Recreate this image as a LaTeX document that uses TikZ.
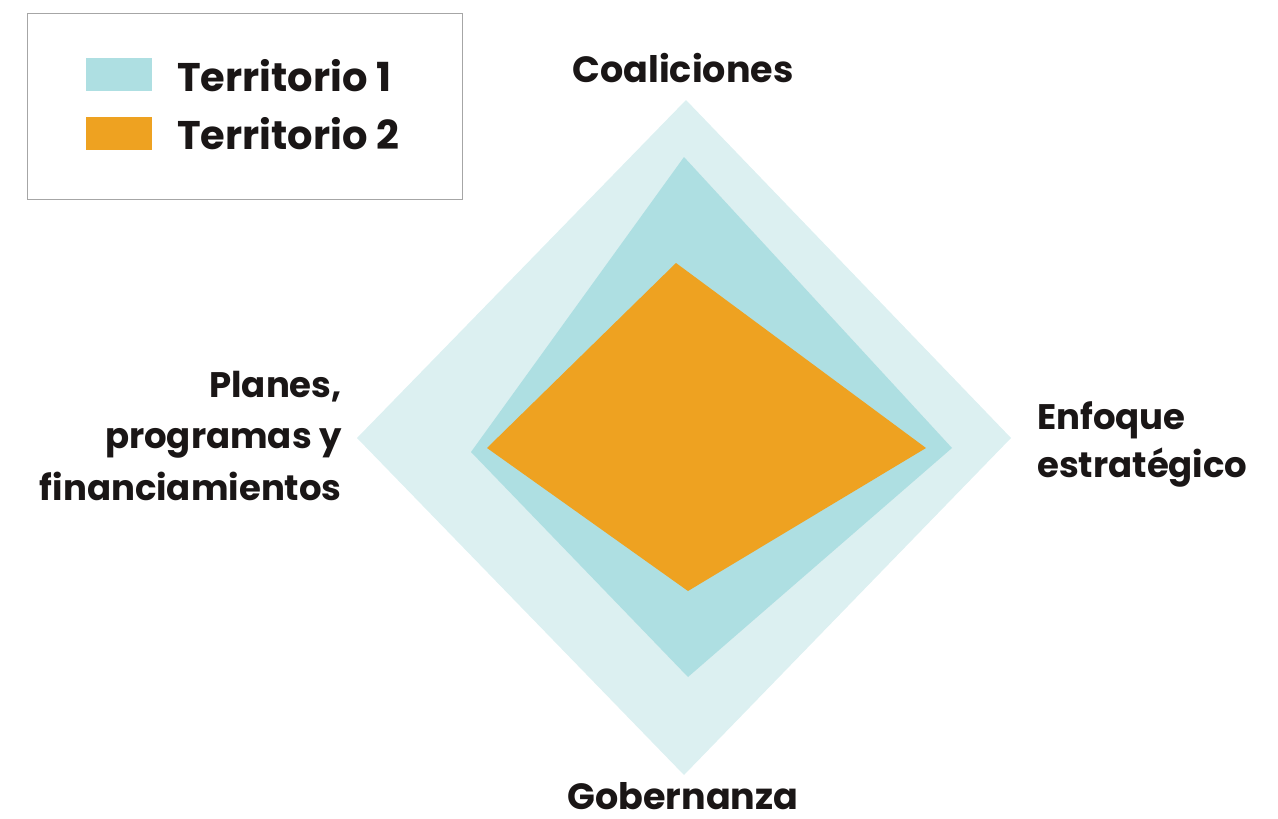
\documentclass[tikz,border=0pt]{standalone}
\usepackage{fontspec}
\setmainfont{Poppins}[BoldFont={* Bold}]
\definecolor{lightcyan}{HTML}{DCF0F1}
\definecolor{midcyan}{HTML}{AEDFE2}
\definecolor{orangefill}{HTML}{EEA221}
\definecolor{txt}{HTML}{1A1616}
\begin{document}
\begin{tikzpicture}[x=1pt,y=-1pt,
  lbl/.style={font=\fontsize{36.5}{50}\selectfont\bfseries, text=txt, inner sep=0pt},
  side/.style={font=\fontsize{35.5}{50}\selectfont\bfseries, text=txt, inner sep=0pt},
  leg/.style={font=\fontsize{40}{50}\selectfont\bfseries, text=txt, inner sep=0pt},
  swatch/.style={minimum width=66pt, minimum height=33pt, inner sep=0pt}]
\useasboundingbox (0,0) rectangle (1278,819);
% polygons
\fill[lightcyan] (686,100) coordinate (ot) -- (1011,438) coordinate (or) -- (684,775) coordinate (ob) -- (357,438) coordinate (ol) -- cycle;
\fill[midcyan] (684,157) coordinate (mt) -- (952,448) coordinate (mr) -- (688,677) coordinate (mb) -- (471,452) coordinate (ml) -- cycle;
\fill[orangefill] (676,263) coordinate (it) -- (926,448) coordinate (ir) -- (688,591) coordinate (ib) -- (487,448) coordinate (il) -- cycle;
% legend
\draw[gray!70, line width=1pt] (27,13) rectangle (462,199);
\node[swatch, fill=midcyan, anchor=north west] (sw1) at (86,58) {};
\node[swatch, fill=orangefill, anchor=north west] (sw2) at (86,117) {};
\node[leg, anchor=base west] (t1) at (177,91) {Territorio 1};
\node[leg, anchor=base west] (t2) at (177,149) {Territorio 2};
% axis labels
\node[lbl, anchor=base] (coal) at (683,82) {Coaliciones};
\node[lbl, anchor=base] (gob) at (683,809) {Gobernanza};
\node[side, anchor=base east] (pl1) at (342,397) {Planes,};
\node[side, anchor=base east] (pl2) at (342,448) {programas y};
\node[side, anchor=base east] (pl3) at (342,500) {financiamientos};
\node[side, anchor=base west] (en1) at (1037,429) {Enfoque};
\node[side, anchor=base west] (en2) at (1037,477) {estratégico};
\end{tikzpicture}
\end{document}
